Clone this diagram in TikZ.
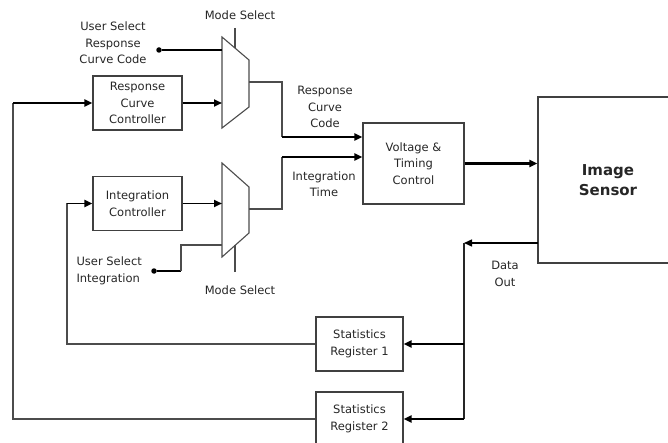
\documentclass[tikz,border=0pt]{standalone}
\usepackage{fontspec}
\setmainfont{DejaVu Sans}
\usetikzlibrary{arrows.meta}
\tikzset{
  every node/.style={
    text=black!85, align=center,
    font=\fontsize{11.5}{16.5}\selectfont
  },
  blk/.style={draw=black!75, line width=1.1pt, inner sep=0pt},
  wire/.style={draw=black!70, line width=1.1pt},
  bus/.style={draw=black, line width=1.9pt, -{Triangle[length=8pt,width=7pt]}},
  busline/.style={draw=black, line width=1.9pt},
  dot/.style={circle, fill=black, inner sep=0pt, minimum size=5.5pt}
}

\begin{document}
\begin{tikzpicture}[x=1pt,y=-1pt]
    %\draw[gray, very thin] (0,0) grid[step=20] (668,443);
    \clip (0,0) rectangle (668,443);

    % blocks
    \node[blk, minimum width=89, minimum height=54] (rcc) at (137.5,103) {Response\\Curve\\Controller};
    \node[blk, minimum width=89, minimum height=54] (ic) at (137.5,203.5) {Integration\\Controller};
    \node[blk, minimum width=101, minimum height=81] (vtc) at (413.5,163.5) {Voltage \&\\Timing\\Control};
    \node[blk, minimum width=140, minimum height=166,
          font=\bfseries\fontsize{15}{20}\selectfont] (sensor) at (608,180) {Image\\Sensor};
    \node[blk, minimum width=87, minimum height=54] (reg1) at (359.5,344) {Statistics\\Register 1};
    \node[blk, minimum width=87, minimum height=54] (reg2) at (359.5,419) {Statistics\\Register 2};

    % multiplexers
    \coordinate (m1a) at (222,37);
    \coordinate (m1b) at (249,60);
    \coordinate (m1c) at (249,107);
    \coordinate (m1d) at (222,128);
    \draw[wire] (m1a) -- (m1b) -- (m1c) -- (m1d) -- cycle;
    \coordinate (m2a) at (222,163);
    \coordinate (m2b) at (249,187);
    \coordinate (m2c) at (249,233);
    \coordinate (m2d) at (222,257);
    \draw[wire] (m2a) -- (m2b) -- (m2c) -- (m2d) -- cycle;

    % mode select
    \node (ms1) at (240,15) {Mode Select};
    \node (ms2) at (240,290) {Mode Select};
    \coordinate (s1) at (235,28);
    \coordinate (s2) at (235,272);
    \draw[wire] (s1) -- (235,48.1);
    \draw[wire] (s2) -- (235,245.4);

    % user inputs
    \node (usrtxt) at (113,43) {User Select\\Response\\Curve Code};
    \node[anchor=west, align=left] (usitxt) at (73,271) {User Select\\Integration};
    \node[dot] (usr) at (159,50) {};
    \node[dot] (usi) at (154,271) {};
    \draw[busline] (usr) -- (usr -| m1a);
    \coordinate (k1) at (181,271);
    \coordinate (k2) at (181,245);
    \draw[busline] (usi) -- (k1);
    \draw[wire] (k1) -- (k2) -- (k2 -| m2a);

    % controllers into muxes
    \draw[bus] (rcc.east) -- (rcc.east -| m1a);
    \draw[bus] (ic.east) -- (ic.east -| m2a);

    % mux outputs
    \coordinate (o1) at (249,82);
    \coordinate (j1) at (282,137);
    \coordinate (o2) at (249,209);
    \coordinate (j2) at (282,157);
    \draw[wire] (o1) -- (o1 -| j1) -- (j1);
    \draw[bus] (j1) -- (j1 -| vtc.west);
    \draw[wire] (o2) -- (o2 -| j2) -- (j2);
    \draw[bus] (j2) -- (j2 -| vtc.west);
    \node (rcctxt) at (325,107) {Response\\Curve\\Code};
    \node (ittxt) at (324,184) {Integration\\Time};

    \draw[bus, line width=2.4pt] (vtc.east) -- (vtc.east -| sensor.west);

    % data out
    \coordinate (dout) at (538,243);
    \coordinate (dj) at (464,243);
    \coordinate (dk) at (464,419);
    \draw[bus, line width=1.5pt] (dout) -- (dj);
    \draw[wire, line width=1.3pt, draw=black!85] (dj) -- (dk);
    \draw[bus, line width=2.8pt] (dj |- reg1.east) -- (reg1.east);
    \draw[bus] (dk) -- (reg2.east);
    \node (dotxt) at (505,274) {Data\\Out};

    % feedback
    \coordinate (f1) at (67,344);
    \coordinate (f2) at (13,419);
    \draw[wire] (reg1.west) -- (f1) -- (f1 |- ic.west);
    \draw[bus] (f1 |- ic.west) -- (ic.west);
    \draw[wire] (reg2.west) -- (f2) -- (f2 |- rcc.west);
    \draw[bus] (f2 |- rcc.west) -- (rcc.west);
\end{tikzpicture}
\end{document}
